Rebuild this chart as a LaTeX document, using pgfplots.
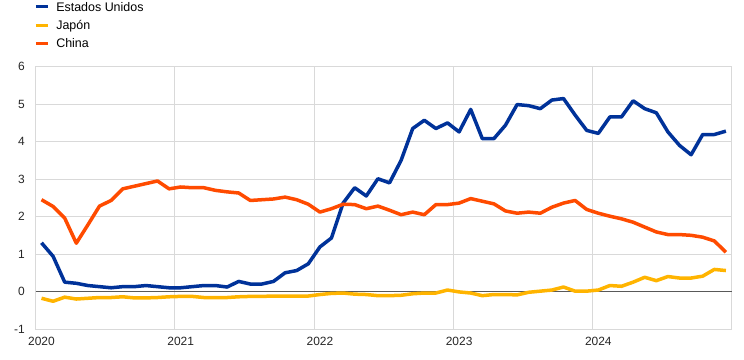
\documentclass[border=0pt]{standalone}
\usepackage{fontspec}
\setmainfont{Liberation Sans}
\usepackage{pgfplots}
\pgfplotsset{compat=1.18}
\definecolor{ecbblue}{RGB}{0,50,153}
\definecolor{ecbyellow}{RGB}{255,180,0}
\definecolor{ecborange}{RGB}{255,75,0}
\definecolor{gridgray}{RGB}{217,217,217}
\definecolor{zerogray}{RGB}{89,89,89}
\begin{document}
\begin{tikzpicture}[x=1bp,y=1bp]
\useasboundingbox (0,0) rectangle (744,359);
\begin{axis}[
  at={(35.7bp,30bp)}, anchor=south west,
  scale only axis, width=696bp, height=262.3bp,
  xmin=0, xmax=60, ymin=-1, ymax=6,
  xtick={0,12,24,36,48}, xticklabels={2020,2021,2022,2023,2024},
  ytick={-1,0,1,2,3,4,5,6}, yticklabels={-1,0,1,2,3,4,5,6},
  extra y ticks={0}, extra y tick labels={},
  extra y tick style={grid=major, major grid style={color=zerogray, line width=1bp}},
  major tick length=0pt,
  grid=major, major grid style={color=gridgray, line width=1bp},
  axis line style={color=gridgray, line width=1bp},
  tick label style={font=\fontsize{12}{14}\selectfont, color=black!85},
  xticklabel style={anchor=north, inner sep=0pt, yshift=-8bp, xshift=5.8bp},
  yticklabel style={anchor=east, inner sep=0pt, xshift=-10.7bp},
  legend style={at={(-0.002,1.2516)}, anchor=north west, draw=none, fill=none,
    inner sep=0pt, outer sep=0pt, row sep=5.8bp,
    font=\fontsize{12.5}{15}\selectfont,
    nodes={inner sep=0pt, text height=10.5bp, text depth=2bp},
    /tikz/every odd column/.append style={column sep=6.6bp}},
  legend cell align=left,
  legend image code/.code={\draw[line width=3bp] (0bp,0bp) -- (12.4bp,0bp);},
  every axis plot/.append style={line width=3.5bp, line join=round, no markers},
]
\addplot[color=ecbblue] coordinates {
(0.5,1.30)(1.5,0.94)(2.5,0.25)(3.5,0.22)(4.5,0.16)(5.5,0.13)(6.5,0.10)(7.5,0.13)(8.5,0.13)(9.5,0.16)(10.5,0.13)(11.5,0.10)
(12.5,0.10)(13.5,0.13)(14.5,0.16)(15.5,0.16)(16.5,0.12)(17.5,0.27)(18.5,0.20)(19.5,0.20)(20.5,0.27)(21.5,0.50)(22.5,0.56)(23.5,0.74)
(24.5,1.19)(25.5,1.43)(26.5,2.36)(27.5,2.77)(28.5,2.55)(29.5,3.01)(30.5,2.90)(31.5,3.50)(32.5,4.35)(33.5,4.57)(34.5,4.35)(35.5,4.50)
(36.5,4.26)(37.5,4.86)(38.5,4.08)(39.5,4.08)(40.5,4.44)(41.5,4.99)(42.5,4.96)(43.5,4.88)(44.5,5.11)(45.5,5.15)(46.5,4.71)(47.5,4.30)
(48.5,4.22)(49.5,4.66)(50.5,4.66)(51.5,5.09)(52.5,4.88)(53.5,4.77)(54.5,4.26)(55.5,3.90)(56.5,3.65)(57.5,4.19)(58.5,4.19)(59.5,4.28)
};
\addlegendentry{Estados Unidos}
\addplot[color=ecbyellow] coordinates {
(0.5,-0.18)(1.5,-0.26)(2.5,-0.15)(3.5,-0.20)(4.5,-0.18)(5.5,-0.16)(6.5,-0.16)(7.5,-0.14)(8.5,-0.17)(9.5,-0.17)(10.5,-0.16)(11.5,-0.14)
(12.5,-0.13)(13.5,-0.13)(14.5,-0.16)(15.5,-0.16)(16.5,-0.16)(17.5,-0.14)(18.5,-0.13)(19.5,-0.13)(20.5,-0.12)(21.5,-0.12)(22.5,-0.12)(23.5,-0.12)
(24.5,-0.08)(25.5,-0.05)(26.5,-0.04)(27.5,-0.07)(28.5,-0.08)(29.5,-0.11)(30.5,-0.11)(31.5,-0.10)(32.5,-0.06)(33.5,-0.04)(34.5,-0.04)(35.5,0.04)
(36.5,-0.01)(37.5,-0.04)(38.5,-0.11)(39.5,-0.08)(40.5,-0.08)(41.5,-0.09)(42.5,-0.02)(43.5,0.01)(44.5,0.04)(45.5,0.12)(46.5,0.01)(47.5,0.01)
(48.5,0.04)(49.5,0.16)(50.5,0.14)(51.5,0.25)(52.5,0.38)(53.5,0.29)(54.5,0.40)(55.5,0.36)(56.5,0.36)(57.5,0.41)(58.5,0.59)(59.5,0.56)
};
\addlegendentry{Japón}
\addplot[color=ecborange] coordinates {
(0.5,2.45)(1.5,2.27)(2.5,1.96)(3.5,1.29)(4.5,1.78)(5.5,2.28)(6.5,2.43)(7.5,2.74)(8.5,2.81)(9.5,2.88)(10.5,2.95)(11.5,2.74)
(12.5,2.79)(13.5,2.77)(14.5,2.77)(15.5,2.70)(16.5,2.66)(17.5,2.63)(18.5,2.43)(19.5,2.45)(20.5,2.47)(21.5,2.52)(22.5,2.45)(23.5,2.33)
(24.5,2.12)(25.5,2.21)(26.5,2.33)(27.5,2.32)(28.5,2.21)(29.5,2.28)(30.5,2.17)(31.5,2.05)(32.5,2.12)(33.5,2.05)(34.5,2.32)(35.5,2.32)
(36.5,2.36)(37.5,2.48)(38.5,2.41)(39.5,2.34)(40.5,2.15)(41.5,2.09)(42.5,2.12)(43.5,2.09)(44.5,2.25)(45.5,2.36)(46.5,2.43)(47.5,2.19)
(48.5,2.09)(49.5,2.01)(50.5,1.94)(51.5,1.85)(52.5,1.72)(53.5,1.59)(54.5,1.52)(55.5,1.52)(56.5,1.50)(57.5,1.45)(58.5,1.35)(59.5,1.05)
};
\addlegendentry{China}
\end{axis}
\end{tikzpicture}
\end{document}
